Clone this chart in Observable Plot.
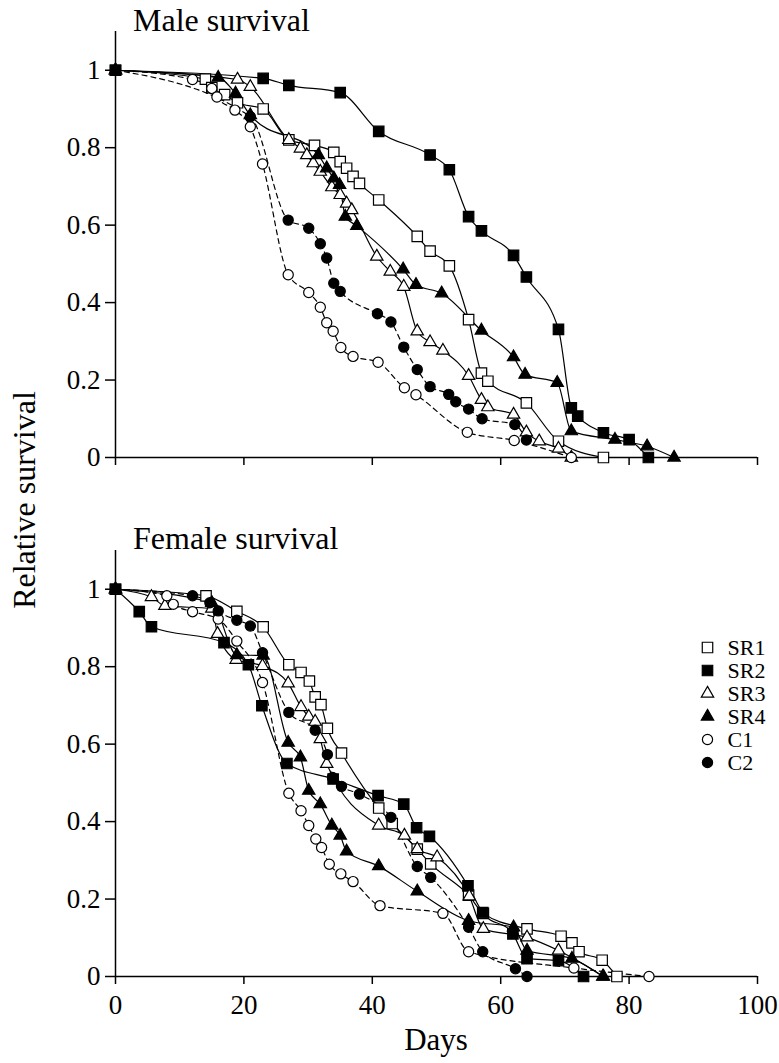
<!DOCTYPE html>
<html><head><meta charset="utf-8">
<script src="https://cdn.jsdelivr.net/npm/d3@7"></script>
<script src="https://cdn.jsdelivr.net/npm/@observablehq/plot@0.6"></script>
<style>
body{margin:0;background:#fff;}
#wrap{position:relative;width:779px;height:1063px;overflow:hidden;background:#fff;}
</style></head><body><div id="wrap"></div>
<script>
const FONT = "Liberation Serif, Times New Roman, serif";
const seriesNames = ["SR1","SR2","SR3","SR4","C1","C2"];
const symbolOf = {SR1:"square",SR2:"square",SR3:"triangle",SR4:"triangle",C1:"circle",C2:"circle"};
const filledSeries = ["SR2","SR4","C2"];
const dashedSeries = ["C1","C2"];
const xTicks = [0,20,40,60,80,100];
const yTicks = [0,0.2,0.4,0.6,0.8,1];
const panelTitles = ["Male survival","Female survival"];

// ---- Male data: [day, relative survival]
const maleSR1 = [[0,1],[14,0.977],[15,0.955],[17,0.937],[19,0.916],[23,0.9],[27,0.82],[31,0.806],[34,0.788],[35,0.764],[36,0.747],[37,0.726],[38,0.708],[41,0.665],[47,0.571],[49,0.533],[52,0.495],[55,0.356],[57,0.218],[58,0.197],[64,0.141],[69,0.042],[76,0]];
const maleSR2 = [[0,1],[23,0.979],[27,0.961],[35,0.942],[41,0.842],[49,0.781],[52,0.743],[55,0.622],[57,0.585],[62,0.522],[64,0.466],[69,0.331],[71,0.128],[72,0.107],[76,0.064],[80,0.046],[83,0]];
const maleSR3 = [[0,1],[19,0.976],[21,0.957],[27,0.82],[28.8,0.798],[29.8,0.781],[30.8,0.76],[31.9,0.738],[33.7,0.698],[35,0.678],[36,0.656],[36.8,0.639],[40.7,0.519],[42.8,0.48],[44.9,0.441],[47,0.326],[49,0.298],[51,0.276],[55,0.211],[57,0.149],[58,0.13],[62,0.111],[64,0.065],[66,0.042],[69,0.023],[71,0]];
const maleSR4 = [[0,1],[16,0.981],[18.7,0.94],[21,0.884],[31.6,0.781],[32.9,0.747],[34,0.721],[34.9,0.704],[35.8,0.622],[37.6,0.598],[44.8,0.486],[46.8,0.446],[50.8,0.424],[57,0.328],[62,0.259],[63.8,0.214],[68.8,0.193],[71,0.068],[77.8,0.046],[82.8,0.029],[87,0]];
const maleC1 = [[0,1],[12,0.976],[15,0.953],[15.8,0.931],[18.6,0.897],[21,0.854],[22.9,0.758],[26.9,0.472],[30.1,0.426],[31.9,0.388],[32.9,0.348],[33.9,0.326],[35.1,0.284],[37,0.261],[40.9,0.246],[45,0.18],[46.8,0.162],[54.8,0.065],[62.1,0.044],[71,0]];
const maleC2 = [[0,1],[21,0.88],[26.9,0.613],[30.1,0.592],[31.9,0.552],[32.9,0.515],[34,0.45],[35,0.429],[40.8,0.371],[42.9,0.35],[44.9,0.285],[47,0.227],[49,0.183],[51.9,0.163],[53,0.144],[55,0.125],[57.1,0.1],[62.2,0.085],[64,0.045]];

// ---- Female data
const femaleSR1 = [[0,1],[14.1,0.983],[18.9,0.943],[23,0.903],[27,0.805],[28.9,0.785],[30.2,0.763],[31.1,0.722],[32,0.702],[33,0.641],[35.2,0.577],[41,0.435],[43.1,0.395],[47,0.329],[49.1,0.291],[55,0.21],[57.3,0.163],[64.1,0.123],[69.4,0.104],[71.1,0.087],[72.2,0.064],[75.8,0.042],[78.1,0]];
const femaleSR2 = [[0,1],[3.7,0.942],[5.6,0.903],[16.9,0.862],[20.7,0.805],[22.8,0.699],[26.7,0.55],[33.9,0.51],[40.9,0.467],[44.9,0.445],[46.9,0.384],[48.9,0.362],[54.9,0.234],[57.2,0.165],[61.9,0.11],[64.1,0.046],[69,0.041],[72.9,0]];
const femaleSR3 = [[0,1],[5.6,0.98],[7.7,0.957],[15,0.95],[15.9,0.885],[18.8,0.818],[22.9,0.802],[26.9,0.757],[28.9,0.696],[30.1,0.671],[31.1,0.658],[31.9,0.613],[32.9,0.549],[41,0.39],[45,0.364],[47,0.329],[50.1,0.308],[55.1,0.207],[57.3,0.123],[64.1,0.101],[69,0.067],[76,0]];
const femaleSR4 = [[0,1],[15,0.965],[18.9,0.83],[23,0.829],[26.9,0.604],[28.8,0.566],[30.1,0.48],[31.9,0.445],[33.7,0.39],[35,0.364],[36,0.323],[41,0.285],[47,0.22],[55,0.144],[62,0.127],[64.1,0.067],[71.1,0.046],[75.9,0]];
const femaleC1 = [[0,1],[8,0.983],[9,0.961],[12,0.942],[16,0.923],[18.9,0.866],[22.9,0.759],[27,0.473],[28.9,0.428],[30.1,0.39],[31.2,0.355],[32.1,0.333],[33.3,0.29],[35.1,0.265],[37,0.245],[41.2,0.183],[51,0.163],[55,0.064],[71.4,0.022],[83.1,0]];
const femaleC2 = [[0,1],[12,0.983],[14.7,0.965],[16,0.944],[18.9,0.92],[21,0.905],[22.9,0.836],[27,0.682],[31.1,0.636],[33,0.573],[33.8,0.514],[35.2,0.491],[38,0.471],[42.9,0.411],[47,0.284],[49.1,0.256],[55,0.127],[57.2,0.064],[62.3,0.02],[64.1,0]];

const maleSets = {SR1:maleSR1,SR2:maleSR2,SR3:maleSR3,SR4:maleSR4,C1:maleC1,C2:maleC2};
const femaleSets = {SR1:femaleSR1,SR2:femaleSR2,SR3:femaleSR3,SR4:femaleSR4,C1:femaleC1,C2:femaleC2};

function toRows(sets){
  const out = [];
  for (const s of seriesNames) for (const [day, surv] of sets[s]) out.push({series:s, day, surv});
  return out;
}
const fmt = d => String(+d.toFixed(1));
const R = {square:5.9, triangle:4.6, circle:5.1};

function dotMarks(data, opts){
  return seriesNames.map(s => Plot.dot(data.filter(d => d.series === s), {
    ...opts, symbol: symbolOf[s], r: R[symbolOf[s]],
    fill: filledSeries.includes(s) ? "black" : "white", stroke: "black", strokeWidth: 1.2
  }));
}

function panel(sets, showLabels, height, marginBottom){
  const data = toRows(sets);
  return Plot.plot({
    width: 779, height, marginTop: 31, marginLeft: 115, marginRight: 22, marginBottom,
    style: {fontFamily: FONT, color: "black", background: "white", overflow: "visible"},
    x: {domain: [0,100]},
    y: {domain: [0,1.1]},
    marks: [
      Plot.ruleX([0], {y1: 0, y2: 1.1, stroke: "black", strokeWidth: 1.5}),
      Plot.ruleY([0], {x1: 0, x2: 100, stroke: "black", strokeWidth: 1.5}),
      Plot.axisY(yTicks, {tickSize: 10, tickPadding: 5, fontSize: 27, tickFormat: fmt, label: null, strokeWidth: 1.5}),
      Plot.axisX(xTicks, {tickSize: 8, tickPadding: 10, fontSize: 27, tickFormat: showLabels ? fmt : () => "", label: null, strokeWidth: 1.5}),
      Plot.line(data.filter(d => !dashedSeries.includes(d.series)), {x: "day", y: "surv", z: "series", curve: "monotone-x", stroke: "black", strokeWidth: 1.2}),
      Plot.line(data.filter(d => dashedSeries.includes(d.series)), {x: "day", y: "surv", z: "series", curve: "monotone-x", stroke: "black", strokeWidth: 1.2, strokeDasharray: "5,4"}),
      ...dotMarks(data, {x: "day", y: "surv"})
    ]
  });
}

const wrap = document.getElementById("wrap");
const malePlot = panel(maleSets, false, 477, 20);
malePlot.style.position = "absolute"; malePlot.style.left = "0px"; malePlot.style.top = "0px";
wrap.appendChild(malePlot);
const femalePlot = panel(femaleSets, true, 517, 60);
femalePlot.style.position = "absolute"; femalePlot.style.left = "0px"; femalePlot.style.top = "519px";
wrap.appendChild(femalePlot);

// legend
const legendPlot = Plot.plot({
  width: 79, height: 150, margin: 0,
  style: {fontFamily: FONT, color: "black", background: "transparent", overflow: "visible"},
  x: {domain: [0,1], range: [0, 64], axis: null},
  y: {type: "point", domain: seriesNames, range: [12, 130], padding: 0, axis: null},
  marks: [
    ...seriesNames.map(s => Plot.dot([s], {x: 0, y: d => d, symbol: symbolOf[s], r: R[symbolOf[s]],
      fill: filledSeries.includes(s) ? "black" : "white", stroke: "black", strokeWidth: 1.2})),
    Plot.text(seriesNames, {x: 0, y: d => d, text: d => d, dx: 20, textAnchor: "start", fontSize: 22, fill: "black"})
  ]
});
legendPlot.style.position = "absolute"; legendPlot.style.left = "707px"; legendPlot.style.top = "633px";
wrap.appendChild(legendPlot);

// text overlay
const ov = d3.select(wrap).append("svg").attr("width", 779).attr("height", 1063)
  .style("position","absolute").style("left","0px").style("top","0px").style("pointer-events","none")
  .attr("font-family", FONT);
ov.append("text").attr("x", 133).attr("y", 31).attr("font-size", 32).text(panelTitles[0]);
ov.append("text").attr("x", 133).attr("y", 549).attr("font-size", 32).text(panelTitles[1]);
ov.append("text").attr("x", 436).attr("y", 1050).attr("font-size", 31).attr("text-anchor","middle").text("Days");
ov.append("text").attr("transform","translate(35,500) rotate(-90)").attr("font-size", 32).attr("text-anchor","middle").text("Relative survival");
</script></body></html>
